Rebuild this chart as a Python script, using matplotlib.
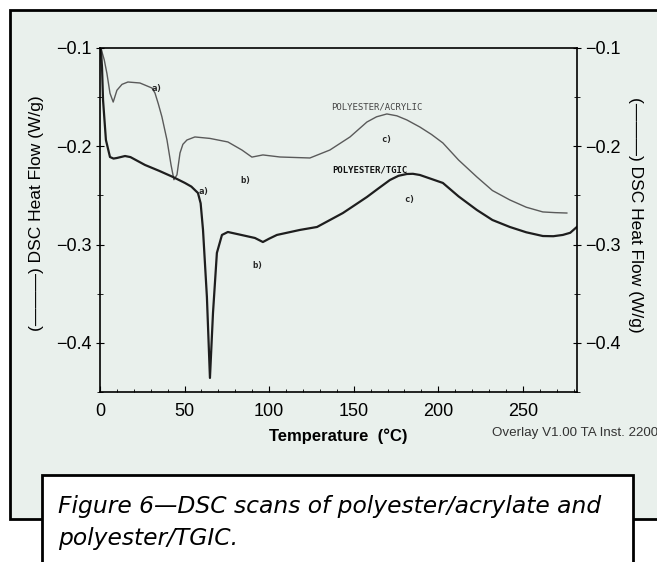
from matplotlib import pyplot as plt
import matplotlib.patches as patches
from matplotlib.ticker import MultipleLocator

# curve a) -> b) -> c) for polyester/acrylic (thin line)
acr_T = [0.5, 2.5, 4.1, 5.9, 7.8, 10, 13, 16.5, 23.6, 30.7, 32.5, 34.5, 36.6, 39.6,
         42, 43.7, 45.5, 47.3, 49, 51.4, 56.1, 65, 75.6, 83.9, 89.8, 96.3, 106.4,
         124.1, 135.9, 147.8, 157.8, 163.5, 169.6, 175.5, 181.4, 189.1, 196, 202.7,
         212, 222.8, 232, 242.3, 252, 261.8, 269, 276]
acr_hf = [-0.100, -0.112, -0.126, -0.146, -0.155, -0.143, -0.137, -0.1346, -0.1356,
          -0.1407, -0.1458, -0.157, -0.170, -0.1936, -0.219, -0.234, -0.229, -0.2068,
          -0.198, -0.1936, -0.1905, -0.192, -0.1956, -0.2038, -0.211, -0.2088, -0.2109,
          -0.2119, -0.2038, -0.1905, -0.1753, -0.170, -0.1671, -0.169, -0.1732,
          -0.1804, -0.188, -0.1966, -0.214, -0.2312, -0.245, -0.2546, -0.262,
          -0.2668, -0.2675, -0.2679]

# polyester/TGIC (thick line)
tgic_T = [0.5, 1.2, 1.8, 3.5, 5.9, 8, 10, 14.8, 18, 26.6, 35, 43.1, 50.2, 54, 57.9,
          59.5, 60.9, 63.2, 65, 66.8, 69.1, 72.1, 75.6, 83, 91.6, 96.3, 100, 104.6,
          118.2, 128.3, 143.6, 150.5, 157.8, 164.5, 171.4, 176.5, 181.4, 185, 189.1,
          195.5, 202.7, 212, 222.8, 232, 242.3, 252, 261.8, 268, 273.6, 278, 281.9]
tgic_hf = [-0.100, -0.120, -0.153, -0.1936, -0.2109, -0.2125, -0.2119, -0.2099,
           -0.211, -0.219, -0.225, -0.2312, -0.2373, -0.241, -0.2475, -0.258, -0.2851,
           -0.3533, -0.4357, -0.3696, -0.3085, -0.2902, -0.2872, -0.290, -0.2933,
           -0.2974, -0.294, -0.2902, -0.2851, -0.2821, -0.2679, -0.260, -0.2516,
           -0.243, -0.2343, -0.230, -0.2282, -0.2280, -0.2292, -0.233, -0.2373,
           -0.251, -0.2648, -0.275, -0.2821, -0.2875, -0.2913, -0.2915, -0.2902,
           -0.288, -0.2821]

# small labels on the curves
note_txt = ["a)", "a)", "b)", "b)", "c)", "c)"]
note_T = [33.7, 61.5, 86, 93, 169.6, 183.2]
note_hf = [-0.1407, -0.2465, -0.2353, -0.3218, -0.1926, -0.2546]

bg = "#e9f0ec"
plt.rcParams['font.family'] = ['Liberation Sans', 'DejaVu Sans']

fig = plt.figure(figsize=(6.57, 5.62), dpi=100)

# grey panel and the white caption box
panel = patches.Rectangle((10/657, 1-519/562), 1.0, 509/562, transform=fig.transFigure,
                          facecolor=bg, edgecolor="black", lw=2, zorder=-10, clip_on=False)
fig.patches.append(panel)
cap = patches.Rectangle((42/657, -0.1), 591/657, 0.1+1-475/562, transform=fig.transFigure,
                        facecolor="white", edgecolor="black", lw=2, zorder=-5, clip_on=False)
fig.patches.append(cap)

ax = fig.add_axes([100/657, 1-392/562, 477/657, 344/562])
ax.set_facecolor("none")
ax.plot(acr_T, acr_hf, color="#5a5a5a", lw=1.0)
ax.plot(tgic_T, tgic_hf, color="#1e1e1e", lw=1.6)

ax.set_xlim(0, 282)
ax.set_ylim(-0.45, -0.1)
ax.xaxis.set_major_locator(MultipleLocator(50))
ax.xaxis.set_minor_locator(MultipleLocator(10))
ax.yaxis.set_major_locator(MultipleLocator(0.1))
ax.yaxis.set_minor_locator(MultipleLocator(0.05))
ax.yaxis.set_major_formatter(plt.FuncFormatter(lambda v, p: "\u2212%.1f" % abs(v) if v < 0 else "%.1f" % v))
ax.tick_params(axis="x", which="both", direction="in", labelsize=13, pad=8)
ax.tick_params(axis="x", which="major", length=4)
ax.tick_params(axis="x", which="minor", length=2.5)
ax.tick_params(axis="y", which="both", direction="inout", right=True, labelright=True,
               labelsize=13, pad=3)
ax.tick_params(axis="y", which="major", length=6)
ax.tick_params(axis="y", which="minor", length=4)
for sp in ax.spines.values():
    sp.set_linewidth(1.2)

ax.set_xlabel("Temperature  (\u00b0C)", fontsize=12, fontweight="bold", labelpad=6)
fig.text(37/657, 1-213/562, "(\u2014\u2014\u2014) DSC Heat Flow (W/g)", rotation=90,
         fontsize=12.5, ha="center", va="center")
fig.text(636/657, 1-215/562, "(\u2014\u2014\u2014) DSC Heat Flow (W/g)", rotation=-90,
         fontsize=12.5, ha="center", va="center")
fig.text(492/657, 1-433/562, "Overlay V1.00 TA Inst. 2200", fontsize=9.6, color="#333333",
         ha="left", va="center")

for t, x, y in zip(note_txt, note_T, note_hf):
    ax.text(x, y, t, fontsize=6.5, family="DejaVu Sans Mono", fontweight="bold",
            ha="center", va="center", color="#222222")
ax.text(163.7, -0.160, "POLYESTER/ACRYLIC", fontsize=6.5, family="DejaVu Sans Mono",
        ha="center", va="center", color="#444444")
ax.text(159.6, -0.2241, "POLYESTER/TGIC", fontsize=6.5, family="DejaVu Sans Mono",
        fontweight="bold", ha="center", va="center", color="#111111")

fig.text(58/657, 1-507/562, "Figure 6\u2014DSC scans of polyester/acrylate and",
         fontsize=16.8, style="italic", family="DejaVu Sans", ha="left", va="center")
fig.text(58/657, 1-538/562, "polyester/TGIC.",
         fontsize=16.8, style="italic", family="DejaVu Sans", ha="left", va="center")

fig.savefig("out.png", dpi=100)
